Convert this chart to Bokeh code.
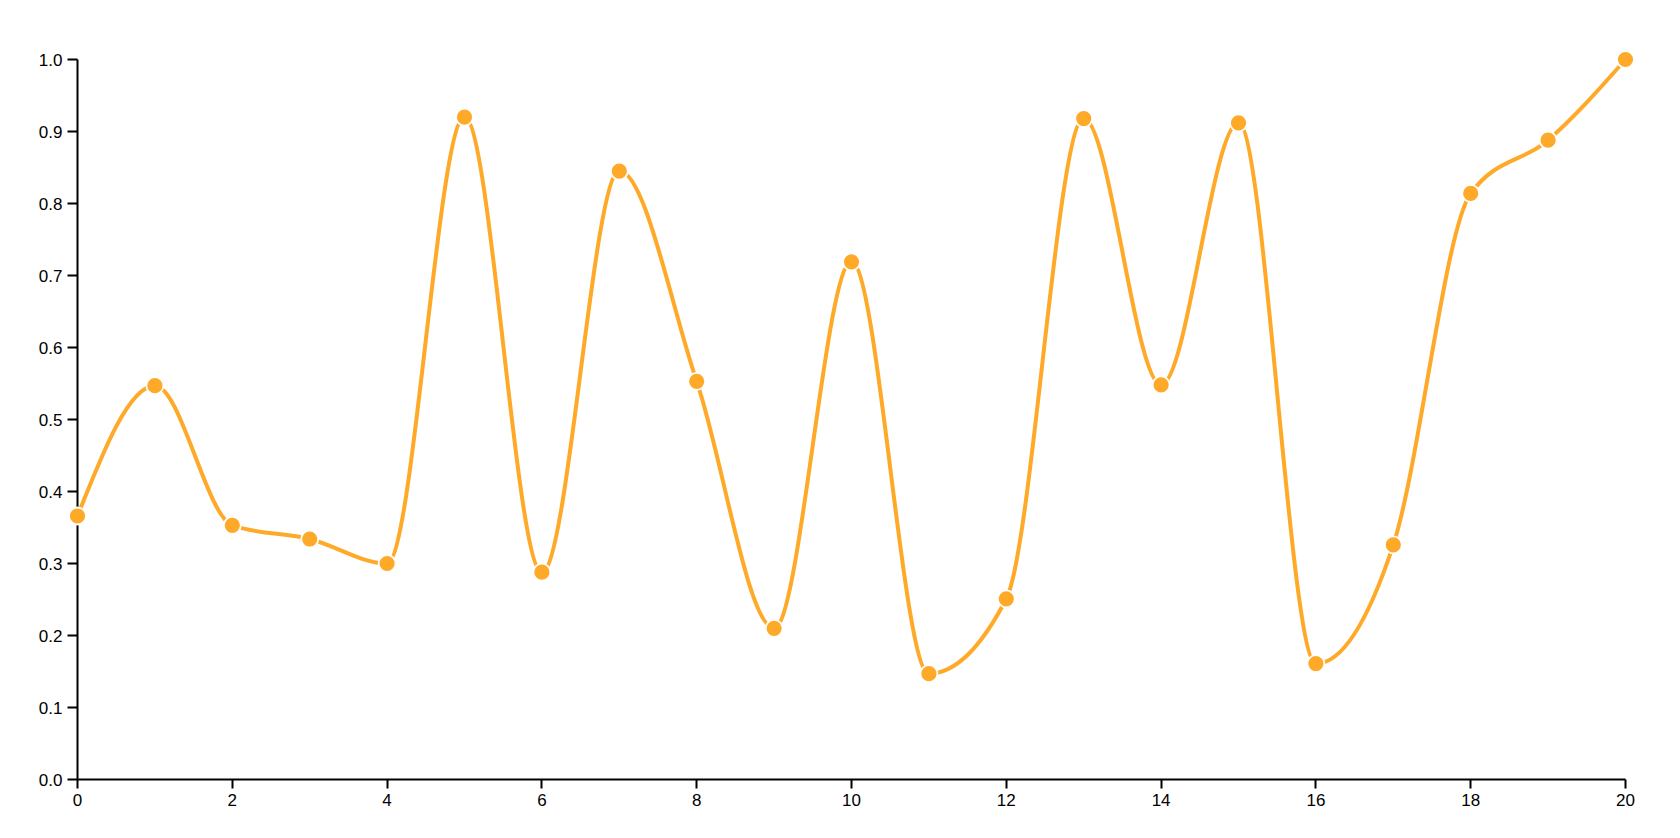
from bokeh.plotting import figure
from bokeh.models import Range1d, FixedTicker
from bokeh.embed import file_html
from bokeh.resources import INLINE

# ---- data ----
x_values = list(range(0, 21))
y_values = [0.366, 0.547, 0.353, 0.334, 0.300, 0.920, 0.288, 0.845, 0.553, 0.210,
            0.719, 0.147, 0.251, 0.918, 0.548, 0.912, 0.161, 0.326, 0.814, 0.888, 1.000]
x_ticks = [0, 2, 4, 6, 8, 10, 12, 14, 16, 18, 20]
y_ticks = [0.0, 0.1, 0.2, 0.3, 0.4, 0.5, 0.6, 0.7, 0.8, 0.9, 1.0]
y_tick_labels = ["0.0", "0.1", "0.2", "0.3", "0.4", "0.5", "0.6", "0.7", "0.8", "0.9", "1.0"]

ORANGE = "#FFA929"
FONT = "Liberation Sans"


# ---- d3.curveMonotoneX tangents ----
def _sign(v):
    return -1 if v < 0 else 1


def _slope3(x0, y0, x1, y1, x2, y2):
    h0 = x1 - x0
    h1 = x2 - x1
    s0 = (y1 - y0) / h0
    s1 = (y2 - y1) / h1
    p = (s0 * h1 + s1 * h0) / (h0 + h1)
    r = (_sign(s0) + _sign(s1)) * min(abs(s0), abs(s1), 0.5 * abs(p))
    return r or 0.0


def _slope2(x0, y0, x1, y1, t):
    h = x1 - x0
    return (3 * (y1 - y0) / h - t) / 2 if h else t


n = len(x_values)
t = [0.0] * n
for i in range(1, n - 1):
    t[i] = _slope3(x_values[i - 1], y_values[i - 1], x_values[i], y_values[i],
                   x_values[i + 1], y_values[i + 1])
t[0] = _slope2(x_values[0], y_values[0], x_values[1], y_values[1], t[1])
t[-1] = _slope2(x_values[-2], y_values[-2], x_values[-1], y_values[-1], t[-2])

bx0, by0, bx1, by1, cx0, cy0, cx1, cy1 = [], [], [], [], [], [], [], []
for i in range(n - 1):
    xa, ya, xb, yb = x_values[i], y_values[i], x_values[i + 1], y_values[i + 1]
    dx = (xb - xa) / 3.0
    bx0.append(xa); by0.append(ya); bx1.append(xb); by1.append(yb)
    cx0.append(xa + dx); cy0.append(ya + dx * t[i])
    cx1.append(xb - dx); cy1.append(yb - dx * t[i + 1])

# ---- figure ----
p = figure(width=1664, height=822, output_backend="svg", toolbar_location=None,
           x_range=Range1d(0, 20), y_range=Range1d(0, 1),
           min_border_left=77, min_border_right=39, min_border_top=59, min_border_bottom=43)
p.outline_line_color = None
p.xgrid.visible = False
p.ygrid.visible = False
p.background_fill_color = "white"
p.border_fill_color = "white"

curve = p.bezier(x0=bx0, y0=by0, x1=bx1, y1=by1, cx0=cx0, cy0=cy0, cx1=cx1, cy1=cy1,
                 line_color=ORANGE, line_width=4, line_cap="round", level="overlay")
dots = p.scatter(x_values, y_values, size=17, fill_color=ORANGE, line_color="white",
                 line_width=1.8, level="overlay")

for ax in (p.xaxis[0], p.yaxis[0]):
    ax.axis_line_color = "black"
    ax.axis_line_width = 2
    ax.major_tick_line_color = "black"
    ax.major_tick_line_width = 2
    ax.major_tick_in = 0
    ax.minor_tick_line_color = None
    ax.major_label_text_font = FONT
    ax.major_label_text_font_size = "17px"
    ax.major_label_text_color = "black"

p.xaxis[0].ticker = FixedTicker(ticks=x_ticks)
p.xaxis[0].major_tick_out = 9
p.xaxis[0].major_label_standoff = 5

p.yaxis[0].ticker = FixedTicker(ticks=y_ticks)
p.yaxis[0].major_tick_out = 10
p.yaxis[0].major_label_standoff = 5
p.yaxis[0].major_label_overrides = {v: s for v, s in zip(y_ticks, y_tick_labels)}

open("out.html", "w").write(file_html(p, INLINE))
